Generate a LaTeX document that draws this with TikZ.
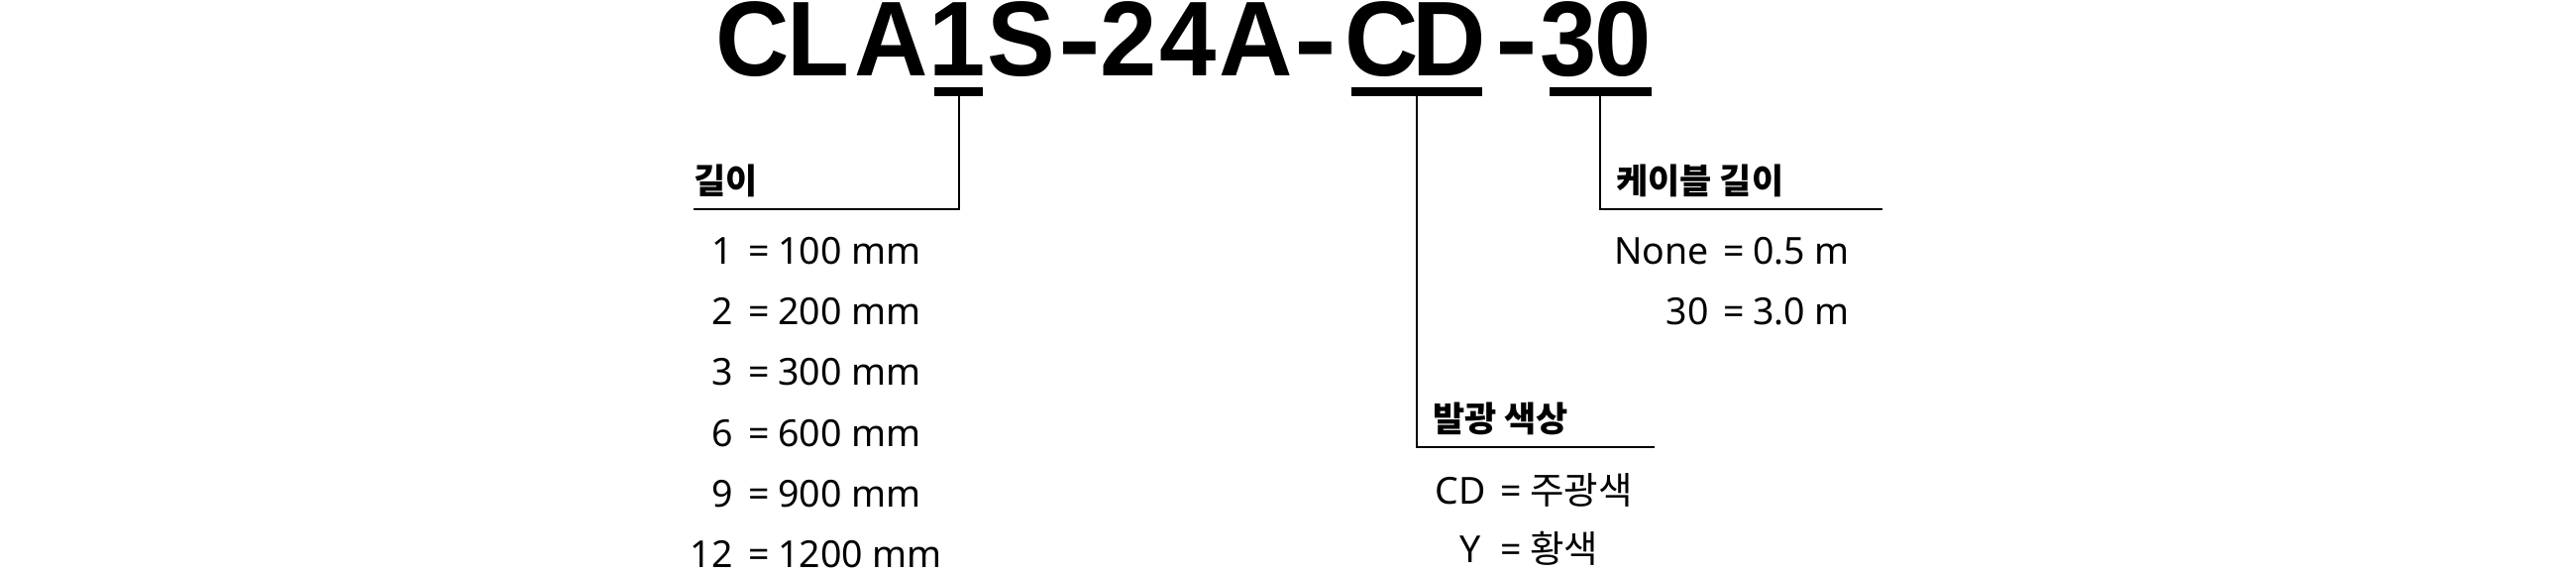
\documentclass[tikz,border=0pt]{standalone}
\usepackage{fontspec}
\setmainfont{Noto Sans}
\newfontfamily\kr{Noto Sans CJK KR}
\newfontfamily\titlefont[FakeStretch=0.96]{Liberation Sans Bold}
\newcommand\hy{\scalebox{1.25}[1]{-}}
\begin{document}
\begin{tikzpicture}[x=1pt,y=-1pt]
\tikzset{
  ttl/.style={inner sep=0pt,outer sep=0pt,anchor=base west,font=\fontsize{107.3}{110}\selectfont\titlefont},
  bar/.style={fill=black,draw=none,inner sep=0pt,outer sep=0pt,minimum height=9pt,minimum width=#1},
  lead/.style={line width=2pt,draw=black},
  head/.style={inner sep=0pt,anchor=base west,font=\fontsize{35}{40}\selectfont\kr\bfseries},
  num/.style={inner sep=0pt,anchor=base east,font=\fontsize{37.5}{40}\selectfont},
  eq/.style={inner sep=0pt,anchor=base,font=\fontsize{37.5}{40}\selectfont},
  val/.style={inner sep=0pt,anchor=base west,font=\fontsize{37.5}{40}\selectfont},
}
\useasboundingbox (0,0) rectangle (2600,580);
\fill[white] (0,0) rectangle (2600,580);
% title
\node[ttl] (title) at (722.5,76.5) {C\kern-2.67pt L\kern5.77pt A\kern0.63pt 1\kern1.73pt S\kern2.95pt\hy\kern-1.15pt 2\kern2.53pt 4\kern3.53pt A\kern1.28pt\hy\kern8.05pt C\kern-6.67pt D\kern9.98pt\hy\kern1.75pt 3\kern-1.77pt 0};
% bars
\node[bar=49pt] (b1) at (967.5,92.5) {};
\node[bar=132pt] (bcd) at (1430,92.5) {};
\node[bar=103pt] (b30) at (1615,92.5) {};
% leader ends
\coordinate (h1) at (700,211);
\coordinate (h2) at (1670,451);
\coordinate (h3) at (1900,211);
\draw[lead] (b1.south) |- (h1);
\draw[lead] (bcd.south) |- (h2);
\draw[lead] (b30.south) |- (h3);
% headings
\node[head] (g1) at (700,196) {길이};
\node[head] (g2) at (1631,196) {케이블 길이};
\node[head] (g3) at (1446,435) {발광 색상};
% left list
\foreach \n/\v/\y [count=\i] in {1/100/266, 2/200/327, 3/300/388, 6/600/450, 9/900/511, 12/1200/572}{
  \node[num] (ln\i) at (740,\y) {\n};
  \node[eq] (le\i) at (766.5,\y) {=};
  \node[val] (lv\i) at (785,\y) {\v\ mm};
}
% cable list
\node[num] (cn1) at (1725,266) {None};
\node[eq] (ce1) at (1750,266) {=};
\node[val] (cv1) at (1769,266) {0.5 m};
\node[num] (cn2) at (1725,327) {30};
\node[eq] (ce2) at (1750,327) {=};
\node[val] (cv2) at (1769,327) {3.0 m};
% colour list
\node[num] (kn1) at (1500,508) {CD};
\node[eq] (ke1) at (1525,508) {=};
\node[val] (kv1) at (1544,508) {\kr 주광색};
\node[num] (kn2) at (1495,567) {Y};
\node[eq] (ke2) at (1525,567) {=};
\node[val] (kv2) at (1544,567) {\kr 황색};
\end{tikzpicture}
\end{document}
